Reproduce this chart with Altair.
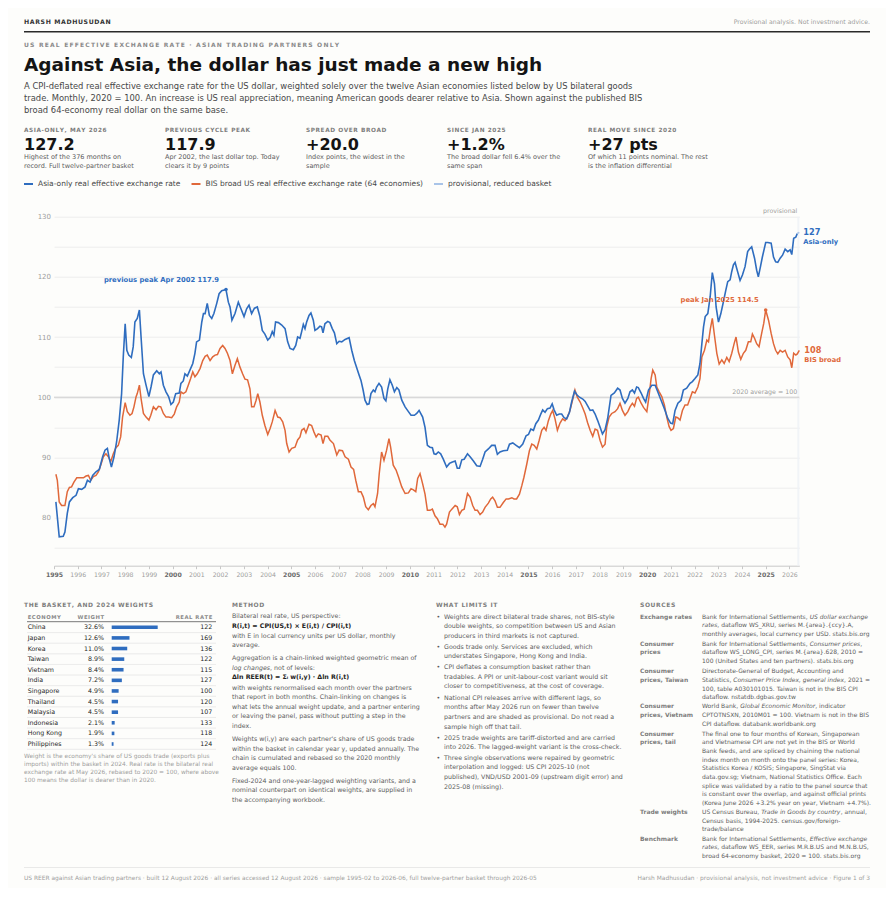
import altair as alt
import pandas as pd

FONT = "DejaVu Sans"
BLUE = "#2f6dbf"
ORANGE = "#e0683a"
LIGHT = "#a9c4e8"
INK = "#141414"
GREY = "#8a8a8a"
BODY = "#5c5c5c"
BG = "#fdfdfb"

# ---------------- series (decimal year, index) ----------------
asia_pts = [
    (1995.08, 82.6), (1995.22, 76.8), (1995.39, 76.9), (1995.46, 77.6), (1995.56, 80.7), (1995.65, 82.6), (1995.79, 83.3), (1995.93, 83.7),
    (1996.03, 84.8), (1996.17, 84.7), (1996.31, 85.1), (1996.41, 86.2), (1996.52, 85.9), (1996.63, 87.0), (1996.77, 87.6), (1996.91, 88.0),
    (1997.05, 90.1), (1997.15, 91.2), (1997.25, 91.5), (1997.33, 89.8), (1997.42, 88.4), (1997.53, 90.1), (1997.64, 92.6), (1997.75, 96.2), (1997.85, 100.6), (1997.92, 106.7),
    (1998.0, 112.2), (1998.07, 107.8), (1998.15, 107.0), (1998.26, 106.6), (1998.34, 108.4), (1998.41, 112.5), (1998.51, 113.1), (1998.6, 114.5), (1998.67, 110.0), (1998.77, 103.9), (1998.88, 102.0),
    (1999.0, 100.1), (1999.09, 101.7), (1999.19, 103.7), (1999.33, 104.4), (1999.44, 103.9), (1999.51, 104.2), (1999.61, 102.0), (1999.72, 100.9), (1999.83, 100.1), (1999.93, 98.8),
    (2000.03, 99.2), (2000.13, 100.6), (2000.28, 100.7), (2000.35, 102.3), (2000.45, 102.7), (2000.52, 103.9), (2000.62, 103.5), (2000.73, 104.5), (2000.85, 105.6), (2000.94, 107.3),
    (2001.01, 109.2), (2001.13, 109.5), (2001.23, 112.5), (2001.3, 113.9), (2001.37, 113.9), (2001.46, 115.6), (2001.55, 113.6), (2001.65, 113.1), (2001.74, 113.9), (2001.86, 115.6), (2001.96, 117.2),
    (2002.07, 117.7), (2002.25, 117.9), (2002.35, 115.8), (2002.42, 115.0), (2002.5, 112.8), (2002.63, 113.9), (2002.77, 115.8), (2002.88, 114.7),
    (2003.01, 113.4), (2003.12, 114.7), (2003.22, 115.3), (2003.33, 113.9), (2003.45, 114.8), (2003.57, 115.0), (2003.68, 113.4), (2003.78, 111.1), (2003.89, 110.5),
    (2004.01, 109.5), (2004.11, 109.9), (2004.2, 110.9), (2004.27, 110.3), (2004.34, 112.5), (2004.46, 112.4), (2004.6, 112.0), (2004.74, 111.4), (2004.85, 109.2), (2004.95, 108.1),
    (2005.09, 107.9), (2005.19, 108.6), (2005.27, 110.0), (2005.37, 109.8), (2005.44, 110.9), (2005.51, 112.1), (2005.58, 111.4), (2005.65, 112.5), (2005.75, 113.6), (2005.83, 114.0), (2005.93, 112.8),
    (2006.0, 111.1), (2006.11, 111.4), (2006.21, 111.8), (2006.28, 111.7), (2006.34, 110.7), (2006.42, 112.2), (2006.54, 112.6), (2006.63, 112.4), (2006.73, 111.4), (2006.82, 110.7), (2006.92, 108.9),
    (2007.02, 109.3), (2007.13, 109.2), (2007.27, 109.6), (2007.44, 109.9), (2007.55, 107.8), (2007.66, 106.1), (2007.76, 104.9), (2007.86, 103.7), (2007.94, 102.8),
    (2008.03, 101.2), (2008.11, 99.5), (2008.2, 98.8), (2008.28, 98.9), (2008.36, 100.6), (2008.46, 101.2), (2008.53, 100.9), (2008.6, 101.7), (2008.7, 102.3), (2008.81, 101.7), (2008.91, 99.8), (2008.99, 99.4),
    (2009.07, 101.4), (2009.16, 102.9), (2009.26, 102.0), (2009.35, 100.9), (2009.45, 101.6), (2009.54, 101.2), (2009.66, 99.5), (2009.8, 98.4), (2009.94, 97.6),
    (2010.05, 97.0), (2010.19, 97.0), (2010.29, 97.3), (2010.39, 97.8), (2010.54, 96.7), (2010.64, 95.0), (2010.74, 92.0), (2010.85, 91.7), (2010.95, 91.6),
    (2011.02, 90.6), (2011.1, 90.5), (2011.2, 90.9), (2011.3, 90.6), (2011.41, 89.7), (2011.55, 88.4), (2011.67, 89.0), (2011.77, 89.2), (2011.91, 89.4),
    (2012.0, 88.2), (2012.09, 88.2), (2012.19, 89.6), (2012.29, 89.7), (2012.43, 90.6), (2012.54, 90.1), (2012.68, 89.4), (2012.82, 88.6), (2012.96, 88.5),
    (2013.07, 89.7), (2013.17, 90.9), (2013.31, 91.4), (2013.45, 92.0), (2013.59, 92.0), (2013.69, 90.5), (2013.8, 90.9), (2013.94, 91.1),
    (2014.11, 91.2), (2014.2, 92.2), (2014.34, 92.4), (2014.48, 92.0), (2014.62, 91.6), (2014.76, 92.2), (2014.9, 93.6),
    (2015.0, 93.8), (2015.1, 94.7), (2015.21, 94.5), (2015.31, 95.6), (2015.42, 96.2), (2015.52, 97.2), (2015.6, 97.9), (2015.7, 97.5), (2015.8, 98.1), (2015.91, 98.2),
    (2016.0, 98.9), (2016.08, 97.9), (2016.19, 97.0), (2016.3, 97.2), (2016.4, 97.2), (2016.5, 96.6), (2016.61, 96.4), (2016.73, 97.5), (2016.82, 99.2), (2016.94, 101.0),
    (2017.04, 100.4), (2017.15, 100.0), (2017.29, 99.7), (2017.39, 99.3), (2017.49, 98.6), (2017.6, 97.8), (2017.71, 97.9), (2017.81, 97.2), (2017.91, 96.2),
    (2018.02, 95.0), (2018.12, 93.9), (2018.23, 94.6), (2018.34, 96.5), (2018.48, 100.3), (2018.62, 100.7), (2018.76, 101.5), (2018.86, 101.2), (2018.96, 99.8),
    (2019.07, 99.0), (2019.19, 99.8), (2019.28, 100.9), (2019.38, 101.2), (2019.47, 100.7), (2019.56, 101.7), (2019.63, 101.6), (2019.75, 100.7), (2019.85, 99.8), (2019.94, 99.2),
    (2020.06, 101.2), (2020.2, 102.0), (2020.34, 102.0), (2020.45, 100.9), (2020.59, 99.5), (2020.73, 98.1), (2020.87, 96.5), (2020.99, 95.7),
    (2021.08, 95.6), (2021.18, 97.8), (2021.3, 99.0), (2021.43, 99.5), (2021.53, 101.2), (2021.67, 101.5), (2021.81, 102.3), (2021.91, 102.6),
    (2022.02, 103.1), (2022.14, 103.7), (2022.23, 105.6), (2022.31, 108.9), (2022.38, 111.7), (2022.45, 113.4), (2022.56, 113.9), (2022.66, 116.7), (2022.75, 120.7), (2022.84, 118.9), (2022.91, 115.0),
    (2023.01, 112.5), (2023.11, 113.9), (2023.22, 115.9), (2023.32, 117.8), (2023.4, 119.2), (2023.5, 119.5), (2023.57, 120.9), (2023.64, 122.0), (2023.71, 122.4), (2023.78, 121.4), (2023.92, 119.4),
    (2024.02, 120.3), (2024.13, 121.7), (2024.24, 124.2), (2024.31, 124.6), (2024.41, 125.0), (2024.53, 123.1), (2024.62, 121.1), (2024.69, 120.0), (2024.78, 121.7), (2024.86, 123.3),
    (2025.0, 125.7), (2025.09, 125.7), (2025.23, 125.6), (2025.33, 123.3), (2025.42, 122.5), (2025.51, 122.4), (2025.61, 123.1), (2025.71, 123.6), (2025.82, 124.6), (2025.93, 124.2),
    (2026.03, 124.5), (2026.1, 123.7), (2026.18, 126.4), (2026.27, 126.6), (2026.333, 127.2),
]
asia_provisional = [(2026.417, 127.4)]

bis_pts = [
    (1995.08, 87.2), (1995.14, 86.2), (1995.22, 82.6), (1995.32, 82.0), (1995.46, 82.0), (1995.56, 84.3), (1995.65, 85.0), (1995.74, 85.1), (1995.84, 85.9), (1995.96, 86.6),
    (1996.1, 86.6), (1996.24, 86.6), (1996.35, 86.9), (1996.45, 87.0), (1996.55, 86.2), (1996.66, 86.8), (1996.77, 87.0), (1996.87, 87.6), (1996.97, 88.7),
    (1997.08, 90.1), (1997.19, 90.6), (1997.29, 90.1), (1997.39, 89.3), (1997.5, 90.6), (1997.61, 91.6), (1997.71, 92.0), (1997.81, 93.4), (1997.89, 96.7),
    (1998.0, 99.1), (1998.09, 97.6), (1998.2, 97.0), (1998.29, 97.3), (1998.37, 98.4), (1998.46, 100.1), (1998.51, 100.6), (1998.6, 102.0), (1998.68, 99.5), (1998.77, 97.3), (1998.88, 96.7),
    (1999.0, 96.2), (1999.08, 97.0), (1999.19, 98.4), (1999.3, 97.9), (1999.4, 98.5), (1999.5, 98.4), (1999.61, 97.3), (1999.72, 96.7), (1999.83, 96.7), (1999.96, 96.6),
    (2000.07, 97.2), (2000.17, 98.4), (2000.28, 99.2), (2000.35, 100.9), (2000.45, 100.6), (2000.56, 100.9), (2000.66, 102.0), (2000.76, 103.1), (2000.85, 104.2), (2000.94, 103.4),
    (2001.04, 103.9), (2001.16, 104.8), (2001.27, 106.1), (2001.37, 106.8), (2001.46, 107.0), (2001.58, 106.1), (2001.69, 106.7), (2001.79, 107.0), (2001.89, 107.1),
    (2002.0, 108.1), (2002.11, 108.6), (2002.21, 108.1), (2002.31, 107.3), (2002.42, 106.1), (2002.52, 103.9), (2002.63, 105.3), (2002.73, 106.4), (2002.84, 105.0), (2002.95, 103.9),
    (2003.05, 103.0), (2003.16, 102.9), (2003.26, 101.4), (2003.33, 98.4), (2003.43, 98.4), (2003.52, 99.5), (2003.59, 100.6), (2003.68, 99.2), (2003.78, 97.0), (2003.89, 95.3),
    (2004.01, 93.8), (2004.11, 94.8), (2004.2, 95.9), (2004.32, 97.8), (2004.43, 96.7), (2004.53, 96.6), (2004.64, 95.9), (2004.74, 94.5), (2004.81, 92.3), (2004.91, 90.9),
    (2005.02, 91.5), (2005.16, 91.7), (2005.27, 92.9), (2005.37, 93.4), (2005.44, 94.5), (2005.54, 94.8), (2005.62, 94.1), (2005.75, 95.5), (2005.86, 95.3), (2005.96, 94.2),
    (2006.05, 93.4), (2006.14, 93.9), (2006.26, 93.7), (2006.34, 92.3), (2006.42, 93.5), (2006.54, 93.5), (2006.63, 92.9), (2006.78, 92.3), (2006.92, 90.4),
    (2007.02, 91.2), (2007.16, 91.1), (2007.27, 90.1), (2007.41, 89.7), (2007.52, 88.4), (2007.63, 88.0), (2007.72, 86.2), (2007.83, 84.3), (2007.94, 84.3),
    (2008.04, 83.4), (2008.14, 81.8), (2008.25, 81.3), (2008.36, 82.0), (2008.46, 82.3), (2008.53, 81.8), (2008.64, 84.0), (2008.71, 87.3), (2008.81, 90.9), (2008.91, 89.5),
    (2009.02, 91.2), (2009.12, 93.1), (2009.19, 91.7), (2009.3, 88.7), (2009.42, 87.9), (2009.52, 86.8), (2009.66, 85.1), (2009.8, 84.0), (2009.94, 84.1),
    (2010.05, 84.8), (2010.15, 84.6), (2010.25, 84.3), (2010.33, 86.5), (2010.43, 87.3), (2010.54, 85.6), (2010.64, 83.9), (2010.74, 81.2), (2010.85, 81.2), (2010.95, 81.4),
    (2011.06, 80.3), (2011.16, 79.8), (2011.27, 78.9), (2011.39, 78.9), (2011.48, 78.4), (2011.55, 78.9), (2011.67, 80.9), (2011.77, 81.4), (2011.91, 82.0),
    (2012.0, 81.8), (2012.09, 80.5), (2012.19, 81.2), (2012.29, 81.4), (2012.43, 84.0), (2012.54, 83.4), (2012.65, 82.0), (2012.75, 81.2), (2012.85, 81.2), (2012.96, 80.5),
    (2013.07, 80.9), (2013.17, 81.7), (2013.31, 82.4), (2013.41, 83.1), (2013.49, 83.4), (2013.59, 82.8), (2013.69, 81.7), (2013.8, 81.7), (2013.94, 82.5),
    (2014.06, 83.1), (2014.16, 83.1), (2014.3, 83.3), (2014.39, 83.1), (2014.5, 83.1), (2014.62, 83.9), (2014.72, 85.3), (2014.81, 86.7), (2014.93, 88.9),
    (2015.04, 91.1), (2015.14, 92.2), (2015.24, 92.0), (2015.35, 91.4), (2015.45, 92.8), (2015.56, 94.5), (2015.66, 95.0), (2015.74, 94.5), (2015.84, 96.1), (2015.94, 97.2),
    (2016.02, 97.8), (2016.12, 96.4), (2016.22, 94.5), (2016.33, 95.7), (2016.44, 96.4), (2016.54, 96.1), (2016.64, 96.7), (2016.75, 97.8), (2016.87, 99.7), (2016.96, 101.2),
    (2017.06, 100.0), (2017.18, 99.2), (2017.29, 98.2), (2017.39, 97.2), (2017.49, 95.8), (2017.6, 94.5), (2017.71, 93.5), (2017.81, 94.7), (2017.91, 94.5),
    (2018.02, 92.8), (2018.12, 91.7), (2018.23, 92.2), (2018.3, 95.1), (2018.4, 96.7), (2018.51, 97.3), (2018.65, 97.6), (2018.76, 98.1), (2018.86, 99.0), (2018.96, 97.8),
    (2019.07, 97.0), (2019.19, 97.6), (2019.28, 98.4), (2019.38, 99.0), (2019.47, 98.5), (2019.56, 99.8), (2019.63, 100.0), (2019.75, 99.0), (2019.85, 98.3), (2019.99, 97.6),
    (2020.08, 100.1), (2020.17, 103.1), (2020.24, 104.5), (2020.34, 103.7), (2020.41, 101.7), (2020.51, 100.9), (2020.62, 100.1), (2020.73, 98.7), (2020.83, 96.7), (2020.93, 95.1),
    (2021.01, 94.5), (2021.11, 94.8), (2021.21, 96.7), (2021.29, 96.6), (2021.39, 96.2), (2021.49, 97.8), (2021.6, 98.7), (2021.71, 98.7), (2021.81, 99.8), (2021.91, 100.9),
    (2022.02, 100.7), (2022.14, 101.7), (2022.23, 103.1), (2022.31, 106.7), (2022.42, 107.8), (2022.52, 109.5), (2022.59, 109.2), (2022.67, 111.4), (2022.75, 113.1), (2022.84, 110.3), (2022.94, 107.3),
    (2023.04, 105.5), (2023.15, 106.2), (2023.25, 105.6), (2023.36, 106.6), (2023.46, 105.9), (2023.57, 107.3), (2023.67, 108.9), (2023.75, 110.0), (2023.85, 107.5), (2023.95, 106.3),
    (2024.06, 107.3), (2024.16, 107.8), (2024.27, 109.2), (2024.37, 109.2), (2024.44, 110.5), (2024.53, 109.8), (2024.62, 108.9), (2024.72, 108.4), (2024.83, 110.6), (2024.92, 112.3),
    (2025.0, 114.5), (2025.12, 112.8), (2025.23, 110.6), (2025.33, 108.9), (2025.42, 107.8), (2025.51, 107.2), (2025.61, 107.8), (2025.71, 107.5), (2025.82, 107.8), (2025.93, 106.7),
    (2026.03, 106.2), (2026.1, 104.9), (2026.18, 107.3), (2026.27, 107.0), (2026.333, 107.2), (2026.417, 107.8),
]

year_ticks = list(range(1995, 2027))
y_ticks = list(range(75, 131, 5))
x_domain = [1995, 2026.417]
y_domain = [72, 130]

economies = ["China", "Japan", "Korea", "Taiwan", "Vietnam", "India", "Singapore", "Thailand",
             "Malaysia", "Indonesia", "Hong Kong", "Philippines"]
weights = [32.6, 12.6, 11.0, 8.9, 8.4, 7.2, 4.9, 4.5, 4.5, 2.1, 1.9, 1.3]
real_rate = [122, 169, 136, 122, 115, 127, 100, 120, 107, 133, 118, 124]

kpi_labels = ["ASIA-ONLY, MAY 2026", "PREVIOUS CYCLE PEAK", "SPREAD OVER BROAD", "SINCE JAN 2025", "REAL MOVE SINCE 2020"]
kpi_values = ["127.2", "117.9", "+20.0", "+1.2%", "+27 pts"]
kpi_notes = [
    ["Highest of the 376 months on", "record. Full twelve-partner basket"],
    ["Apr 2002, the last dollar top. Today", "clears it by 9 points"],
    ["Index points, the widest in the", "sample"],
    ["The broad dollar fell 6.4% over the", "same span"],
    ["Of which 11 points nominal. The rest", "is the inflation differential"],
]
MONTHS = ["Jan", "Feb", "Mar", "Apr", "May", "Jun", "Jul", "Aug", "Sep", "Oct", "Nov", "Dec"]

# ---------------- layout helpers ----------------
OX, OY = 54.0, 216.7          # page position of the plot origin
W, H = 745.3, 349.0
TOTAL_W, TOTAL_H = 878, 880
DUMMY = pd.DataFrame({"k": [0]})

DJ = {' ': .318, '!': .401, '"': .460, '#': .838, '$': .636, '%': .950, '&': .780, "'": .275, '(': .390, ')': .390,
      '*': .500, '+': .838, ',': .318, '-': .361, '.': .318, '/': .337, ':': .337, ';': .337, '=': .838, '?': .531,
      '@': 1.0, 'A': .684, 'B': .686, 'C': .698, 'D': .770, 'E': .632, 'F': .575, 'G': .775, 'H': .752, 'I': .295,
      'J': .295, 'K': .656, 'L': .557, 'M': .863, 'N': .748, 'O': .787, 'P': .603, 'Q': .787, 'R': .695, 'S': .635,
      'T': .611, 'U': .732, 'V': .684, 'W': .989, 'X': .685, 'Y': .611, 'Z': .685, '[': .390, ']': .390, '_': .500,
      'a': .613, 'b': .635, 'c': .550, 'd': .635, 'e': .615, 'f': .352, 'g': .635, 'h': .634, 'i': .278, 'j': .278,
      'k': .579, 'l': .278, 'm': .974, 'n': .634, 'o': .612, 'p': .635, 'q': .635, 'r': .411, 's': .521, 't': .392,
      'u': .634, 'v': .592, 'w': .818, 'x': .592, 'y': .592, 'z': .525, '{': .636, '}': .636}
for _d in "0123456789":
    DJ[_d] = .636


def textw(s, size):
    return sum(DJ.get(c, .6) for c in s) * size


def sp(s, gap="\u200a"):
    return gap.join(s)


def T(px, py, s, size=6.3, weight="normal", color=BODY, align="left", italic=False):
    kw = dict(text=s, fontSize=size, fontWeight=weight, color=color, align=align,
              baseline="middle", font=FONT)
    if italic:
        kw["fontStyle"] = "italic"
    return alt.Chart(DUMMY).mark_text(**kw).encode(x=alt.value(px - OX), y=alt.value(py - OY))


def R(x1, x2, py, color, width=1.0):
    return alt.Chart(DUMMY).mark_rule(color=color, strokeWidth=width).encode(
        x=alt.value(x1 - OX), x2=alt.value(x2 - OX), y=alt.value(py - OY))


def rich(px, py, segs, size=6.0, color=BODY):
    out, x = [], px
    for s, it in segs:
        out.append(T(x, py, s, size=size, color=color, italic=it))
        x += textw(s, size)
    return out


# ---------------- main chart ----------------
asia_df = pd.DataFrame(asia_pts, columns=["t", "v"])
bis_df = pd.DataFrame(bis_pts, columns=["t", "v"])
prov_df = pd.concat([asia_df.tail(1), pd.DataFrame(asia_provisional, columns=["t", "v"])], ignore_index=True)

xs = alt.Scale(domain=x_domain, nice=False, zero=False)
ys = alt.Scale(domain=y_domain, nice=False, zero=False)

x_axis = alt.Axis(values=year_ticks, format="d", title=None, grid=False, labelFont=FONT, labelFontSize=6.2,
                  labelColor={"condition": {"test": "datum.value % 5 === 0", "value": "#6a6a6a"}, "value": "#9d9d9d"},
                  labelFontWeight={"condition": {"test": "datum.value % 5 === 0", "value": "bold"}, "value": "normal"},
                  tickSize=3, tickColor="#c8c8c8", domainColor="#c8c8c8", labelPadding=3,
                  labelFlush=False, labelOverlap=False)
y_axis = alt.Axis(values=y_ticks, title=None, grid=True, gridColor="#ededed", gridWidth=1, domain=False, ticks=False,
                  labelExpr="datum.value % 10 === 0 ? datum.label : ''", labelFont=FONT, labelFontSize=7,
                  labelColor="#9d9d9d", labelPadding=3.5)

band_df = pd.DataFrame({"t0": [asia_df.t.iloc[-1]], "t1": [asia_provisional[-1][0]]})
band = alt.Chart(band_df).mark_rect(color="#eef1f6", opacity=0.8).encode(
    x=alt.X("t0:Q", scale=xs, axis=None), x2="t1", y=alt.value(0), y2=alt.value(H))

ref100 = alt.Chart(pd.DataFrame({"v": [100]})).mark_rule(color="#cdcdcd", strokeWidth=1).encode(
    y=alt.Y("v:Q", scale=ys, axis=None))

# carrier of the axes and gridlines (drawn first)
axes_layer = alt.Chart(bis_df).mark_line(opacity=0, strokeWidth=0).encode(
    x=alt.X("t:Q", scale=xs, axis=x_axis), y=alt.Y("v:Q", scale=ys, axis=y_axis))
orange_line = alt.Chart(bis_df).mark_line(color=ORANGE, strokeWidth=1.5).encode(
    x=alt.X("t:Q", scale=xs, axis=None), y=alt.Y("v:Q", scale=ys, axis=None))
blue_line = alt.Chart(asia_df).mark_line(color=BLUE, strokeWidth=1.6).encode(
    x=alt.X("t:Q", scale=xs, axis=None), y=alt.Y("v:Q", scale=ys, axis=None))
prov_line = alt.Chart(prov_df).mark_line(color=LIGHT, strokeWidth=1.6).encode(
    x=alt.X("t:Q", scale=xs, axis=None), y=alt.Y("v:Q", scale=ys, axis=None))


def month_label(t):
    yr = int(round(t * 12)) // 12
    m = int(round(t * 12)) % 12
    return f"{MONTHS[m]} {yr}"


bp = asia_df[asia_df.t < 2010].loc[lambda d: d.v.idxmax()]
op = bis_df.loc[bis_df.v.idxmax()]
peak_b = pd.DataFrame({"t": [bp.t], "v": [bp.v], "lbl": [f"previous peak {month_label(bp.t)} {bp.v:.1f}"]})
peak_o = pd.DataFrame({"t": [op.t], "v": [op.v], "lbl": [f"peak {month_label(op.t)} {op.v:.1f}"]})


def pt_layers(df, color):
    pts = alt.Chart(df).mark_circle(size=13, color=color, opacity=1).encode(
        x=alt.X("t:Q", scale=xs, axis=None), y=alt.Y("v:Q", scale=ys, axis=None))
    lbl = alt.Chart(df).mark_text(align="right", baseline="middle", dx=-7, dy=-9.5, font=FONT, fontSize=6.8,
                                  fontWeight="bold", color=color).encode(
        x=alt.X("t:Q", scale=xs, axis=None), y=alt.Y("v:Q", scale=ys, axis=None), text="lbl:N")
    return [pts, lbl]


end_b = pd.DataFrame({"t": [asia_provisional[-1][0]], "v": [asia_provisional[-1][1]],
                      "num": [f"{asia_provisional[-1][1]:.0f}"], "name": ["Asia-only"]})
end_o = pd.DataFrame({"t": [bis_df.t.iloc[-1]], "v": [bis_df.v.iloc[-1]],
                      "num": [f"{bis_df.v.iloc[-1]:.0f}"], "name": ["BIS broad"]})


def end_layers(df, color, dx):
    enc = dict(x=alt.X("t:Q", scale=xs, axis=None), y=alt.Y("v:Q", scale=ys, axis=None))
    a = alt.Chart(df).mark_text(align="left", baseline="middle", dx=dx, dy=0.5, font=FONT, fontSize=8.2,
                                fontWeight="bold", color=color).encode(text="num:N", **enc)
    b = alt.Chart(df).mark_text(align="left", baseline="middle", dx=dx, dy=10, font=FONT, fontSize=6.7,
                                fontWeight="bold", color=color).encode(text="name:N", **enc)
    return [a, b]


edge = pd.DataFrame({"t": [x_domain[1], x_domain[1]], "v": [100, y_domain[1]],
                     "lbl": ["2020 average = 100", "provisional"]})
edge_lbl = alt.Chart(edge).mark_text(align="right", baseline="middle", dx=-2, dy=-5.5, font=FONT, fontSize=6.3,
                                     color="#9d9d9d").encode(
    x=alt.X("t:Q", scale=xs, axis=None), y=alt.Y("v:Q", scale=ys, axis=None), text="lbl:N")

main_layers = [axes_layer, band, ref100, orange_line, blue_line, prov_line,
               *pt_layers(peak_b, BLUE), *pt_layers(peak_o, ORANGE),
               *end_layers(end_b, BLUE, 4), *end_layers(end_o, ORANGE, 5), edge_lbl]

# ---------------- basket table ----------------
basket = pd.DataFrame({"economy": economies, "weight": weights, "rate": real_rate, "row": list(range(len(economies)))})
wscale = alt.Scale(domain=[0, max(weights)], range=[111.7 - OX, 157.7 - OX], nice=False, zero=False)
rscale = alt.Scale(domain=[0, len(economies) - 1], range=[627.3 - OY, 744.0 - OY], nice=False, zero=False)
yrow = alt.Y("row:Q", scale=rscale, axis=None)

seps = alt.Chart(basket).transform_calculate(sep="datum.row + 0.5").mark_rule(color="#e6e6e6", strokeWidth=0.8).encode(
    x=alt.value(27 - OX), x2=alt.value(216 - OX), y=alt.Y("sep:Q", scale=rscale, axis=None))
bars = alt.Chart(basket).mark_rule(color=BLUE, strokeWidth=3.6, strokeCap="butt").encode(
    x=alt.X("weight:Q", scale=wscale, axis=None), x2=alt.datum(0), y=yrow)
names = alt.Chart(basket).mark_text(align="left", baseline="middle", font=FONT, fontSize=6.3, color="#262626").encode(
    x=alt.value(27.7 - OX), y=yrow, text="economy:N")
wtxt = alt.Chart(basket).transform_calculate(lbl="format(datum.weight, '.1f') + '%'").mark_text(
    align="right", baseline="middle", font=FONT, fontSize=6.3, color="#262626").encode(
    x=alt.value(104 - OX), y=yrow, text="lbl:N")
rtxt = alt.Chart(basket).mark_text(align="right", baseline="middle", font=FONT, fontSize=6.3, color="#262626").encode(
    x=alt.value(212.3 - OX), y=yrow, text="rate:Q")
table_layers = [seps, bars, names, wtxt, rtxt]

# ---------------- text furniture ----------------
texts = []
texts.append(T(24, 22, sp("HARSH MADHUSUDAN"), size=6.2, weight="bold", color="#333333"))
texts.append(T(870, 22, "Provisional analysis. Not investment advice.", size=6.2, color="#9d9d9d", align="right"))
texts.append(R(24, 870, 31.8, "#2a2a2a", 1.6))
texts.append(T(24, 45, sp("US REAL EFFECTIVE EXCHANGE RATE · ASIAN TRADING PARTNERS ONLY", "\u2009"), size=6.0,
               weight="bold", color="#8a8a8a"))
texts.append(T(24, 64.5, "Against Asia, the dollar has just made a new high", size=18.5, weight="bold", color=INK))
subtitle = [
    "A CPI-deflated real effective exchange rate for the US dollar, weighted solely over the twelve Asian economies listed below by US bilateral goods",
    "trade. Monthly, 2020 = 100. An increase is US real appreciation, meaning American goods dearer relative to Asia. Shown against the published BIS",
    "broad 64-economy real dollar on the same base.",
]
for i, s in enumerate(subtitle):
    texts.append(T(24, 85.8 + 12.3 * i, s, size=8.4, color="#474747"))

for i, xk in enumerate([24, 165, 306, 447, 588]):
    texts.append(T(xk, 130, sp(kpi_labels[i]), size=5.8, weight="bold", color="#7d7d7d"))
    texts.append(T(xk, 144.5, kpi_values[i], size=16, weight="bold", color=INK))
    for j, s in enumerate(kpi_notes[i]):
        texts.append(T(xk, 157 + 8.8 * j, s, size=6.5, color=BODY))

legend_items = [(24, BLUE, "Asia-only real effective exchange rate"),
                (191.5, ORANGE, "BIS broad US real effective exchange rate (64 economies)"),
                (434, LIGHT, "provisional, reduced basket")]
for xk, c, s in legend_items:
    texts.append(R(xk, xk + 9, 184, c, 2))
    texts.append(T(xk + 14, 184, s, size=7.5, color="#474747"))

# panel headers
for xk, s in [(24, "THE BASKET, AND 2024 WEIGHTS"), (232, "METHOD"), (436, "WHAT LIMITS IT"), (640, "SOURCES")]:
    texts.append(T(xk, 605, sp(s), size=6.0, weight="bold", color="#7d7d7d"))

# table header
texts.append(T(27.7, 616.7, sp("ECONOMY"), size=5.3, weight="bold", color="#8a8a8a"))
texts.append(T(104, 616.7, sp("WEIGHT"), size=5.3, weight="bold", color="#8a8a8a", align="right"))
texts.append(T(212.3, 616.7, sp("REAL RATE"), size=5.3, weight="bold", color="#8a8a8a", align="right"))
texts.append(R(27, 216, 621.7, "#555555", 0.8))
foot = ["Weight is the economy's share of US goods trade (exports plus",
        "imports) within the basket in 2024. Real rate is the bilateral real",
        "exchange rate at May 2026, rebased to 2020 = 100, where above",
        "100 means the dollar is dearer than in 2020."]
for j, s in enumerate(foot):
    texts.append(T(24, 756 + 8.1 * j, s, size=5.9, color="#9d9d9d"))

# method
MX = 232
method = [
    (616.3, "Bilateral real rate, US perspective:", "n"),
    (626.0, "R(i,t) = CPI(US,t) × E(i,t) / CPI(i,t)", "b"),
    (635.7, "with E in local currency units per US dollar, monthly", "n"),
    (645.3, "average.", "n"),
    (658.3, "Aggregation is a chain-linked weighted geometric mean of", "n"),
    (676.7, "Δln REER(t) = Σᵢ w(i,y) · Δln R(i,t)", "b"),
    (687.7, "with weights renormalised each month over the partners", "n"),
    (697.3, "that report in both months. Chain-linking on changes is", "n"),
    (706.7, "what lets the annual weight update, and a partner entering", "n"),
    (716.3, "or leaving the panel, pass without putting a step in the", "n"),
    (726.0, "index.", "n"),
    (739.0, "Weights w(i,y) are each partner's share of US goods trade", "n"),
    (748.7, "within the basket in calendar year y, updated annually. The", "n"),
    (758.3, "chain is cumulated and rebased so the 2020 monthly", "n"),
    (767.7, "average equals 100.", "n"),
    (780.7, "Fixed-2024 and one-year-lagged weighting variants, and a", "n"),
    (790.3, "nominal counterpart on identical weights, are supplied in", "n"),
    (799.7, "the accompanying workbook.", "n"),
]
for yk, s, st in method:
    if st == "b":
        texts.append(T(MX, yk, s, size=6.3, weight="bold", color="#222222"))
    else:
        texts.append(T(MX, yk, s, size=6.3, color=BODY))
texts += rich(MX, 667.7, [("log changes", True), (", not of levels:", False)], size=6.3)

# what limits it
LX = 444
limits = [
    (616.7, ["Weights are direct bilateral trade shares, not BIS-style",
             "double weights, so competition between US and Asian",
             "producers in third markets is not captured."]),
    (646.7, ["Goods trade only. Services are excluded, which",
             "understates Singapore, Hong Kong and India."]),
    (667.0, ["CPI deflates a consumption basket rather than",
             "tradables. A PPI or unit-labour-cost variant would sit",
             "closer to competitiveness, at the cost of coverage."]),
    (697.7, ["National CPI releases arrive with different lags, so",
             "months after May 2026 run on fewer than twelve",
             "partners and are shaded as provisional. Do not read a",
             "sample high off that tail."]),
    (737.7, ["2025 trade weights are tariff-distorted and are carried",
             "into 2026. The lagged-weight variant is the cross-check."]),
    (757.7, ["Three single observations were repaired by geometric",
             "interpolation and logged: US CPI 2025-10 (not",
             "published), VND/USD 2001-09 (upstream digit error) and",
             "2025-08 (missing)."]),
]
for yk, lines in limits:
    texts.append(T(436.5, yk, "•", size=6.3, color=BODY))
    for j, s in enumerate(lines):
        texts.append(T(LX, yk + 9.6 * j, s, size=6.3, color=BODY))

# sources
SLX, STX, SZ, SLH = 640, 702, 6.0, 8.65
sources = [
    (616.7, ["Exchange rates"], [
        [("Bank for International Settlements, ", False), ("US dollar exchange", True)],
        [("rates", True), (", dataflow WS_XRU, series M.{area}.{ccy}.A,", False)],
        [("monthly averages, local currency per USD. stats.bis.org", False)]]),
    (643.7, ["Consumer", "prices"], [
        [("Bank for International Settlements, ", False), ("Consumer prices", True), (",", False)],
        [("dataflow WS_LONG_CPI, series M.{area}.628, 2010 =", False)],
        [("100 (United States and ten partners). stats.bis.org", False)]]),
    (671.3, ["Consumer", "prices, Taiwan"], [
        [("Directorate-General of Budget, Accounting and", False)],
        [("Statistics, ", False), ("Consumer Price Index, general index", True), (", 2021 =", False)],
        [("100, table A030101015. Taiwan is not in the BIS CPI", False)],
        [("dataflow. nstatdb.dgbas.gov.tw", False)]]),
    (706.3, ["Consumer", "prices, Vietnam"], [
        [("World Bank, ", False), ("Global Economic Monitor", True), (", indicator", False)],
        [("CPTOTNSXN, 2010M01 = 100. Vietnam is not in the BIS", False)],
        [("CPI dataflow. databank.worldbank.org", False)]]),
    (733.7, ["Consumer", "prices, tail"], [
        [("The final one to four months of Korean, Singaporean", False)],
        [("and Vietnamese CPI are not yet in the BIS or World", False)],
        [("Bank feeds, and are spliced by chaining the national", False)],
        [("index month on month onto the panel series: Korea,", False)],
        [("Statistics Korea / KOSIS; Singapore, SingStat via", False)],
        [("data.gov.sg; Vietnam, National Statistics Office. Each", False)],
        [("splice was validated by a ratio to the panel source that", False)],
        [("is constant over the overlap, and against official prints", False)],
        [("(Korea June 2026 +3.2% year on year, Vietnam +4.7%).", False)]]),
    (812.0, ["Trade weights"], [
        [("US Census Bureau, ", False), ("Trade in Goods by country", True), (", annual,", False)],
        [("Census basis, 1994-2025. census.gov/foreign-", False)],
        [("trade/balance", False)]]),
    (838.7, ["Benchmark"], [
        [("Bank for International Settlements, ", False), ("Effective exchange", True)],
        [("rates", True), (", dataflow WS_EER, series M.R.B.US and M.N.B.US,", False)],
        [("broad 64-economy basket, 2020 = 100. stats.bis.org", False)]]),
]
for yk, labels, lines in sources:
    for j, s in enumerate(labels):
        texts.append(T(SLX, yk + SLH * j, s, size=SZ, weight="bold", color="#7d7d7d"))
    for j, segs in enumerate(lines):
        texts += rich(STX, yk + SLH * j, segs, size=SZ, color=BODY)

# footer
texts.append(R(24, 870, 867.5, "#e3e3e3", 0.8))
texts.append(T(24, 878, "US REER against Asian trading partners · built 12 August 2026 · all series accessed 12 August 2026 · "
                        "sample 1995-02 to 2026-06, full twelve-partner basket through 2026-05", size=5.9, color="#9d9d9d"))
texts.append(T(870, 878, "Harsh Madhusudan · provisional analysis, not investment advice · Figure 1 of 3",
               size=5.9, color="#9d9d9d", align="right"))

chart = alt.layer(*main_layers, *table_layers, *texts).resolve_scale(x="independent", y="independent").properties(
    width=W, height=H,
    padding={"left": OX - 8, "top": OY - 8, "right": TOTAL_W - (OX - 8) - W, "bottom": TOTAL_H - (OY - 8) - H},
    autosize=alt.AutoSizeParams(type="none"),
    background=BG,
).configure_view(stroke=None)

chart.save("out.html", embed_options={"renderer": "svg", "actions": False})
